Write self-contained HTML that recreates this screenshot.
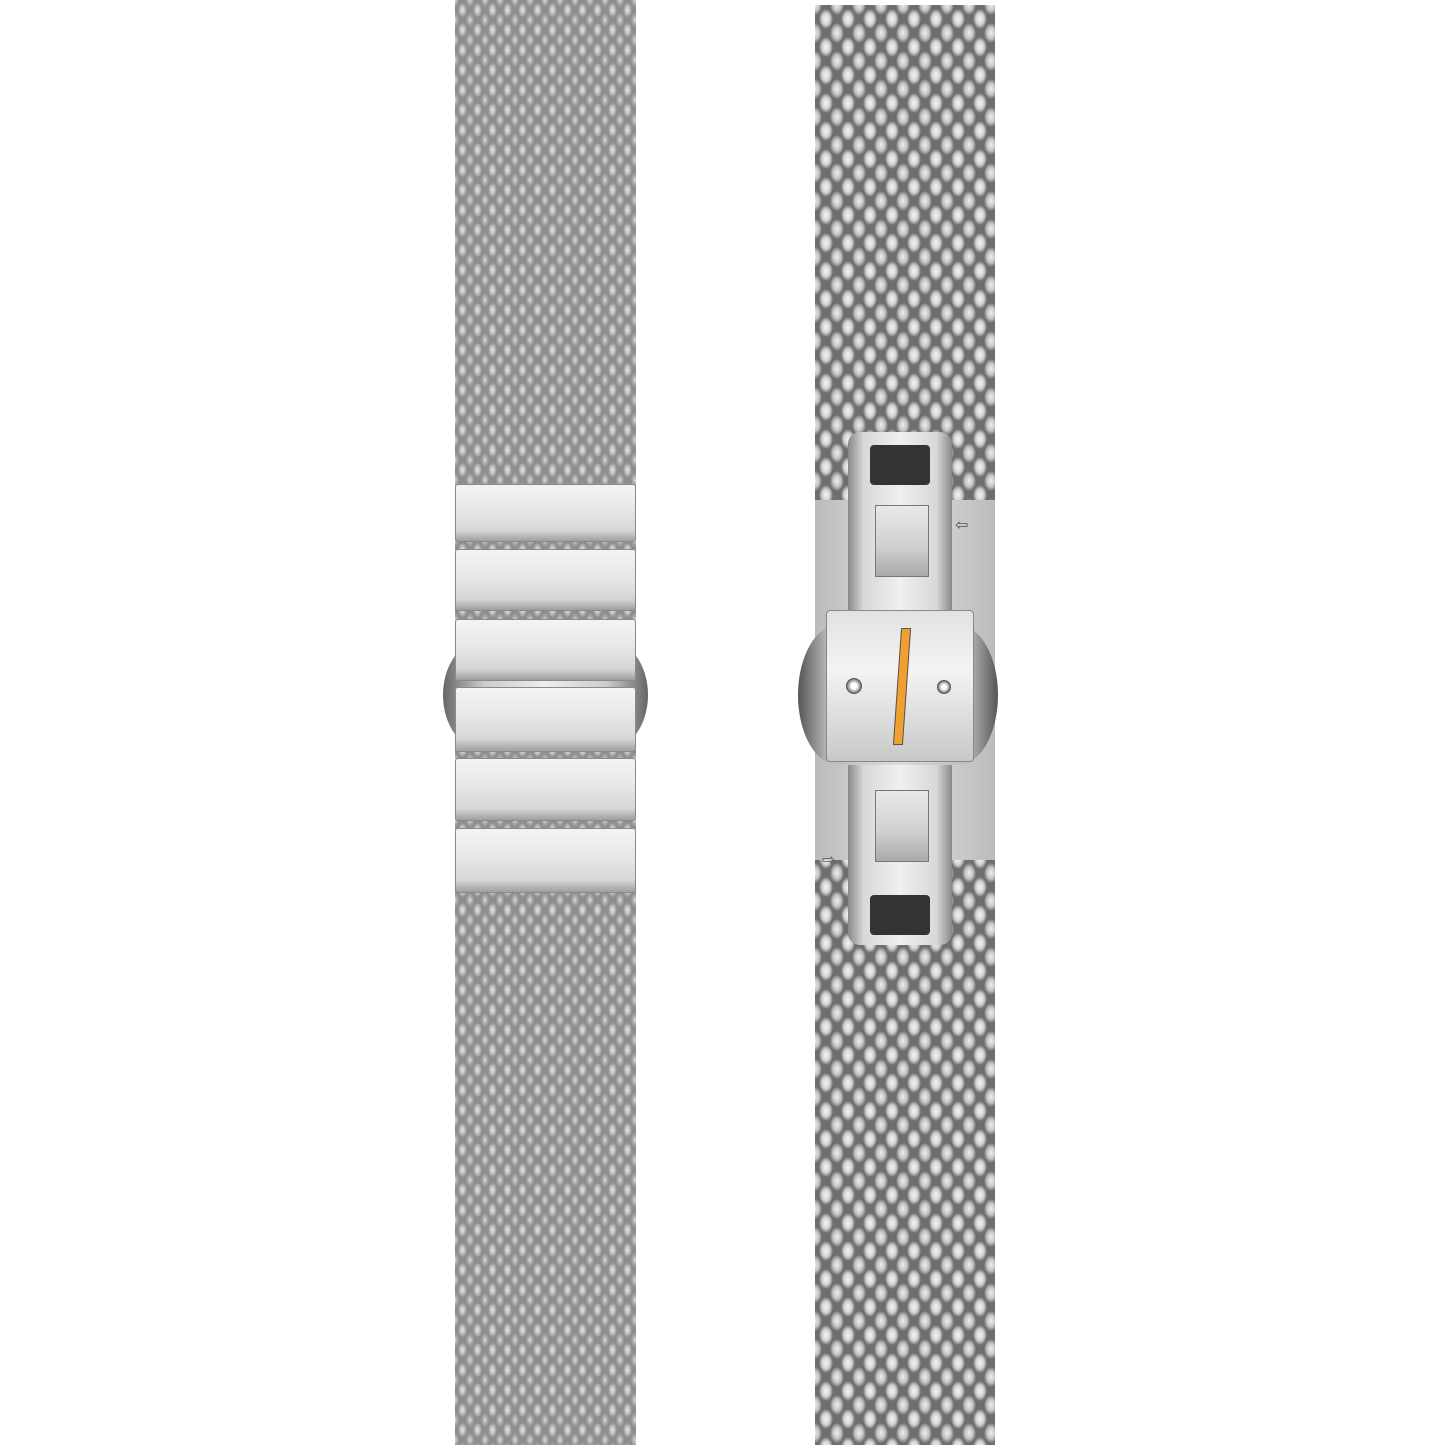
<!DOCTYPE html>
<html><head><style>
html,body{margin:0;padding:0;background:#fff;}
body{width:1445px;height:1445px;position:relative;overflow:hidden;}
.mesh1{position:absolute;background-color:#8d8d8d;
background-image:
radial-gradient(ellipse 6px 10px at 50% 50%,#e6e6e6 0,#bdbdbd 40%,rgba(0,0,0,0) 75%),
radial-gradient(ellipse 6px 10px at 50% 50%,#dcdcdc 0,#a8a8a8 40%,rgba(0,0,0,0) 75%);
background-size:15px 20px,15px 20px;background-position:0 0,7.5px 10px;}
.mesh2{position:absolute;background-color:#6e6e6e;
background-image:
radial-gradient(ellipse 9px 13px at 50% 50%,#f4f4f4 0,#d2d2d2 45%,rgba(0,0,0,0) 78%),
radial-gradient(ellipse 9px 13px at 50% 50%,#eeeeee 0,#c4c4c4 45%,rgba(0,0,0,0) 78%);
background-size:22px 28px,22px 28px;background-position:0 0,11px 14px;}
.bar{position:absolute;left:455px;width:181px;border-radius:3px;
background:linear-gradient(180deg,#f4f4f4 0%,#e9e9e9 40%,#d6d6d6 80%,#9a9a9a 100%);
box-shadow:inset 0 0 0 1px #8a8a8a;}
.plate{position:absolute;background:linear-gradient(180deg,#e8e8e8,#cfcfcf 60%,#a9a9a9);border:1px solid #777;}
</style></head><body>
<!-- left band -->
<div class="mesh1" style="left:455px;top:0;width:181px;height:1445px"></div>
<div style="position:absolute;left:443px;top:640px;width:205px;height:110px;border-radius:40px/55px;background:linear-gradient(90deg,#666,#ccc 20%,#eee 50%,#ccc 80%,#666)"></div>
<div class="bar" style="top:484px;height:58px"></div>
<div class="bar" style="top:549px;height:62px"></div>
<div class="bar" style="top:619px;height:62px"></div>
<div class="bar" style="top:687px;height:65px"></div>
<div class="bar" style="top:758px;height:63px"></div>
<div class="bar" style="top:828px;height:65px"></div>
<!-- right band -->
<div class="mesh2" style="left:815px;top:5px;width:180px;height:1440px"></div>
<div style="position:absolute;left:815px;top:500px;width:180px;height:360px;background:linear-gradient(90deg,#bbb,#e0e0e0 50%,#bbb)"></div>
<div style="position:absolute;left:848px;top:432px;width:104px;height:513px;background:linear-gradient(90deg,#888,#d8d8d8 15%,#f0f0f0 50%,#d8d8d8 85%,#888);border-radius:12px"></div>
<div style="position:absolute;left:870px;top:445px;width:60px;height:40px;background:#333;border-radius:4px"></div>
<div style="position:absolute;left:870px;top:895px;width:60px;height:40px;background:#333;border-radius:4px"></div>
<div class="plate" style="left:875px;top:505px;width:52px;height:70px"></div>
<div class="plate" style="left:875px;top:790px;width:52px;height:70px"></div>
<div style="position:absolute;left:798px;top:625px;width:200px;height:140px;border-radius:40px/70px;background:linear-gradient(90deg,#555,#bbb 15%,#ddd 50%,#bbb 85%,#555)"></div>
<div style="position:absolute;left:826px;top:610px;width:146px;height:150px;background:linear-gradient(180deg,#e2e2e2,#f3f3f3 40%,#c8c8c8);border:1px solid #888;border-radius:4px"></div>
<div style="position:absolute;left:897px;top:628px;width:8px;height:115px;background:#f0a030;transform:skewX(-4deg);border:1px solid #555"></div>
<div style="position:absolute;left:846px;top:678px;width:14px;height:14px;border-radius:50%;background:radial-gradient(#fff 30%,#777 70%);border:1px solid #555"></div>
<div style="position:absolute;left:937px;top:680px;width:12px;height:12px;border-radius:50%;background:radial-gradient(#fff 30%,#777 70%);border:1px solid #555"></div>
<div style="position:absolute;left:955px;top:515px;color:#555;font:16px 'DejaVu Sans',sans-serif">⇦</div>
<div style="position:absolute;left:822px;top:850px;color:#555;font:16px 'DejaVu Sans',sans-serif">⇨</div>
</body></html>
